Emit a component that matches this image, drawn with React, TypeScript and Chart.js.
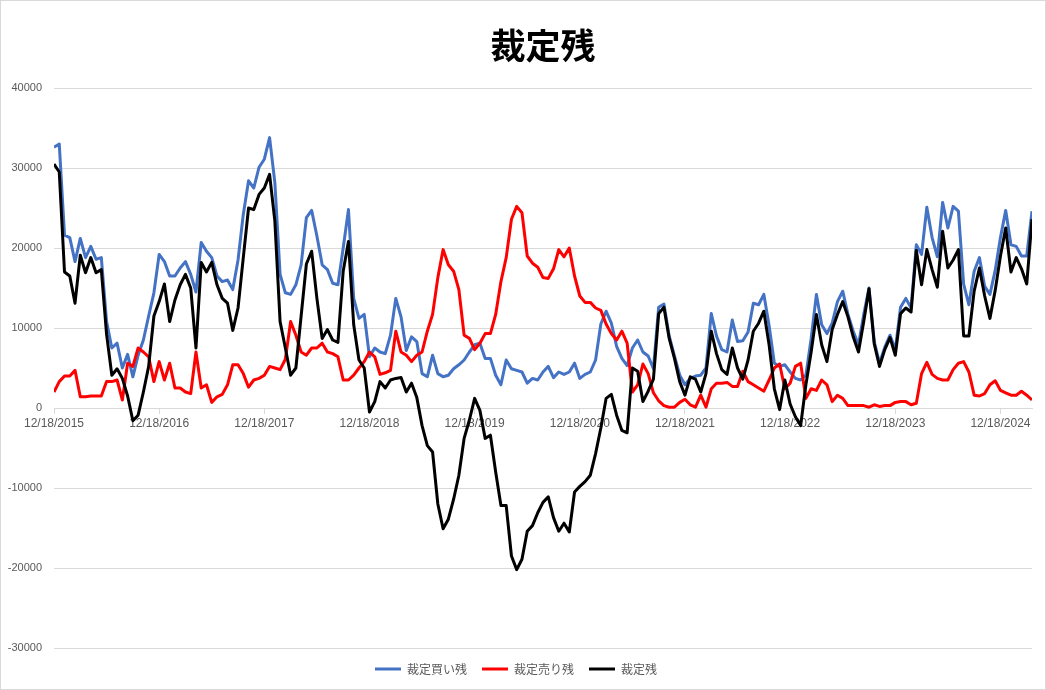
import { useEffect, useRef } from 'react';
import { Chart, registerables } from 'chart.js';

Chart.register(...registerables);

// tick labels on the date axis, one per year
const yearLabels = [
  '12/18/2015', '12/18/2016', '12/18/2017', '12/18/2018', '12/18/2019',
  '12/18/2020', '12/18/2021', '12/18/2022', '12/18/2023', '12/18/2024',
];

// samples every 1/20 year starting 12/18/2015
const sampleStep = 1 / 20;

const buyRemain = [
  32600, 33000, 21600, 21300, 18300, 21200, 18800, 20200, 18600, 18800,
  10800, 7500, 8100, 5000, 6700, 3900, 6600, 8500, 11500, 14400,
  19200, 18300, 16500, 16500, 17500, 18300, 16700, 14500, 20700, 19600,
  18800, 16500, 15800, 16000, 14800, 18500, 24200, 28400, 27500, 30100,
  31100, 33800, 28200, 16700, 14400, 14200, 15400, 17900, 23800, 24700,
  21500, 17900, 17300, 15600, 15400, 20000, 24800, 13700, 11200, 11700,
  6400, 7500, 7000, 6800, 9100, 13700, 11400, 7200, 8900, 8300,
  4300, 3900, 6600, 4300, 3900, 4100, 4900, 5400, 6000, 7000,
  7900, 8100, 6200, 6200, 4100, 2900, 6000, 4900, 4700, 4500,
  3100, 3700, 3500, 4500, 5200, 3800, 4500, 4200, 4500, 5600,
  3700, 4200, 4500, 6000, 10500, 12100, 10600, 7700, 6200, 5300,
  7500, 8500, 7000, 6500, 4900, 12600, 13000, 9000, 6500, 4100,
  2900, 3700, 4000, 4100, 5000, 11800, 9000, 7300, 7000, 11000,
  8300, 8400, 9500, 13100, 12900, 14200, 10300, 5600, 5200, 5400,
  4500, 3700, 3500, 4100, 8700, 14200, 10400, 9300, 10600, 13300,
  14600, 11700, 9600, 7900, 11700, 15000, 8300, 5600, 7600, 9100,
  7300, 12600, 13700, 12500, 20400, 19200, 25100, 21300, 18900, 25700,
  22500, 25200, 24600, 15500, 12900, 17100, 18800, 15200, 14200, 17200,
  21300, 24700, 20400, 20200, 19000, 19000, 24600,
];

const sellRemain = [
  2000, 3300, 4000, 4000, 4700, 1400, 1400, 1500, 1500, 1500,
  3300, 3300, 3500, 1000, 5600, 5200, 7500, 7000, 6400, 3300,
  5800, 3500, 5600, 2500, 2500, 2000, 1800, 7000, 2500, 2900,
  700, 1400, 1700, 2900, 5400, 5400, 4300, 2600, 3500, 3700,
  4100, 5200, 5000, 4800, 6100, 10800, 9100, 7000, 6600, 7500,
  7500, 8100, 7000, 6800, 6400, 3500, 3500, 4100, 5000, 5800,
  7000, 6400, 4200, 4400, 4700, 9600, 7000, 6600, 5800, 6600,
  7000, 9600, 11700, 16300, 19800, 17900, 17100, 14800, 9100, 8700,
  7300, 8100, 9300, 9300, 11700, 15800, 18800, 23600, 25200, 24400,
  19000, 18100, 17600, 16300, 16200, 17400, 19800, 18900, 20000, 16500,
  14000, 13200, 13200, 12500, 12200, 10500, 9300, 8500, 9600, 8100,
  2000, 2900, 5500, 4300, 1900, 900, 300, 100, 100, 700,
  1100, 400, 100, 1600, 100, 2400, 3100, 3100, 3200, 2700,
  2700, 4600, 3300, 2900, 2500, 2100, 3500, 5000, 5500, 2400,
  3100, 5200, 5600, 1200, 2400, 2200, 3500, 2900, 800, 1600,
  1200, 300, 300, 300, 300, 100, 400, 200, 300, 300,
  700, 800, 800, 400, 600, 4300, 5700, 4200, 3700, 3500,
  3500, 4800, 5600, 5800, 4500, 1600, 1500, 1800, 2900, 3400,
  2200, 1900, 1600, 1600, 2100, 1600, 1000,
];

const netRemain = [
  30500, 29500, 17000, 16500, 13100, 19100, 16900, 18800, 16900, 17300,
  9200, 4100, 4900, 3700, 1500, -1600, -900, 2000, 5200, 11500,
  13300, 15500, 10800, 13500, 15400, 16700, 15000, 7500, 18200, 17000,
  18200, 15400, 13700, 13100, 9700, 12500, 18800, 25000, 24800, 26700,
  27500, 29200, 23400, 10800, 7500, 4100, 5000, 11500, 18000, 19600,
  13700, 8700, 9800, 8500, 8200, 17100, 20800, 10400, 6000, 5000,
  -500, 800, 3300, 2500, 3500, 3700, 3800, 2000, 3100, 1300,
  -2200, -4700, -5500, -12000, -15100, -13900, -11400, -8400, -3800, -1500,
  1200, -300, -3800, -3400, -8000, -12200, -12200, -18500, -20200, -18900,
  -15400, -14700, -13100, -11800, -11100, -13700, -15400, -14400, -15500, -10500,
  -9800, -9200, -8400, -5700, -2500, 1200, 1700, -900, -2800, -3100,
  5000, 4600, 800, 2100, 3600, 11800, 12600, 8700, 6200, 3300,
  1600, 3900, 3600, 2000, 4300, 9600, 6800, 4800, 4200, 7500,
  5000, 3600, 6000, 9600, 10600, 12100, 7900, 2400, -200, 3500,
  500, -1100, -2200, 2900, 7000, 11700, 7900, 5800, 9800, 11700,
  13300, 11400, 8900, 7000, 10800, 14900, 8000, 5200, 7300, 8800,
  6600, 11800, 12500, 12000, 19700, 15400, 19800, 17300, 15100, 22100,
  17500, 18500, 19800, 9000, 9000, 14600, 17500, 14000, 11200, 14700,
  19000, 22500, 17000, 18800, 17400, 15500, 23600,
];

const toPoints = (values: number[]) => values.map((y, i) => ({ x: i * sampleStep, y }));

const numFont = 'Liberation Sans, Arial, sans-serif';
const jpFont = '"Noto Sans CJK JP", "Noto Sans", sans-serif';

const App = () => {
  const canvasRef = useRef<HTMLCanvasElement | null>(null);

  useEffect(() => {
    if (!canvasRef.current) return;

    const chart = new Chart(canvasRef.current, {
      type: 'line',
      data: {
        datasets: [
          {
            label: '裁定買い残',
            data: toPoints(buyRemain),
            borderColor: '#4472C4',
            backgroundColor: '#4472C4',
            order: 3,
          },
          {
            label: '裁定売り残',
            data: toPoints(sellRemain),
            borderColor: '#FF0000',
            backgroundColor: '#FF0000',
            order: 2,
          },
          {
            label: '裁定残',
            data: toPoints(netRemain),
            borderColor: '#000000',
            backgroundColor: '#000000',
            order: 1,
          },
        ],
      },
      options: {
        animation: false,
        responsive: false,
        maintainAspectRatio: false,
        layout: { padding: { left: 0, right: 14, top: 0, bottom: 5 } },
        elements: {
          point: { radius: 0 },
          line: { borderWidth: 3, tension: 0, borderJoinStyle: 'round', fill: false },
        },
        plugins: {
          tooltip: { enabled: false },
          title: {
            display: true,
            fullSize: false,
            text: '裁定残',
            color: '#000000',
            font: { family: jpFont, size: 35, weight: 'bold' },
            padding: { top: 25, bottom: 21 },
          },
          legend: {
            position: 'bottom',
            labels: {
              color: '#595959',
              font: { family: jpFont, size: 12 },
              boxWidth: 26,
              boxHeight: 3,
              padding: 15,
              sort: (a, b) => (a.datasetIndex ?? 0) - (b.datasetIndex ?? 0),
              generateLabels: (c) =>
                Chart.defaults.plugins.legend.labels
                  .generateLabels(c)
                  .map((l) => ({ ...l, lineWidth: 0, strokeStyle: 'rgba(0,0,0,0)' })),
            },
          },
        },
        scales: {
          x: {
            type: 'linear',
            min: 0,
            max: (buyRemain.length - 1) * sampleStep,
            position: { y: 0 },
            afterBuildTicks: (axis) => {
              axis.ticks = yearLabels.map((_, k) => ({ value: k }));
            },
            ticks: {
              color: '#595959',
              font: { family: numFont, size: 12 },
              maxRotation: 0,
              autoSkip: false,
              padding: 3,
              callback: (value) => yearLabels[Math.round(Number(value))] ?? '',
            },
            grid: { drawOnChartArea: false, drawTicks: true, tickLength: 5, color: '#d9d9d9' },
            border: { color: '#d9d9d9', width: 1 },
          },
          y: {
            min: -30000,
            max: 40000,
            afterFit: (axis) => {
              axis.width = 54;
            },
            ticks: {
              stepSize: 10000,
              color: '#595959',
              font: { family: numFont, size: 11 },
              padding: 12,
              callback: (value) => String(value),
            },
            grid: { color: '#d9d9d9', drawTicks: false },
            border: { display: false },
          },
        },
      },
    });

    return () => {
      chart.destroy();
    };
  }, []);

  return (
    <div style={{ position: 'absolute', left: 0, top: 0, width: 1046, height: 690, background: '#ffffff' }}>
      <canvas
        ref={canvasRef}
        width={1046}
        height={690}
        style={{ display: 'block', width: 1046, height: 690, outline: '1px solid #d9d9d9', outlineOffset: -1 }}
      />
    </div>
  );
};

export default App;
